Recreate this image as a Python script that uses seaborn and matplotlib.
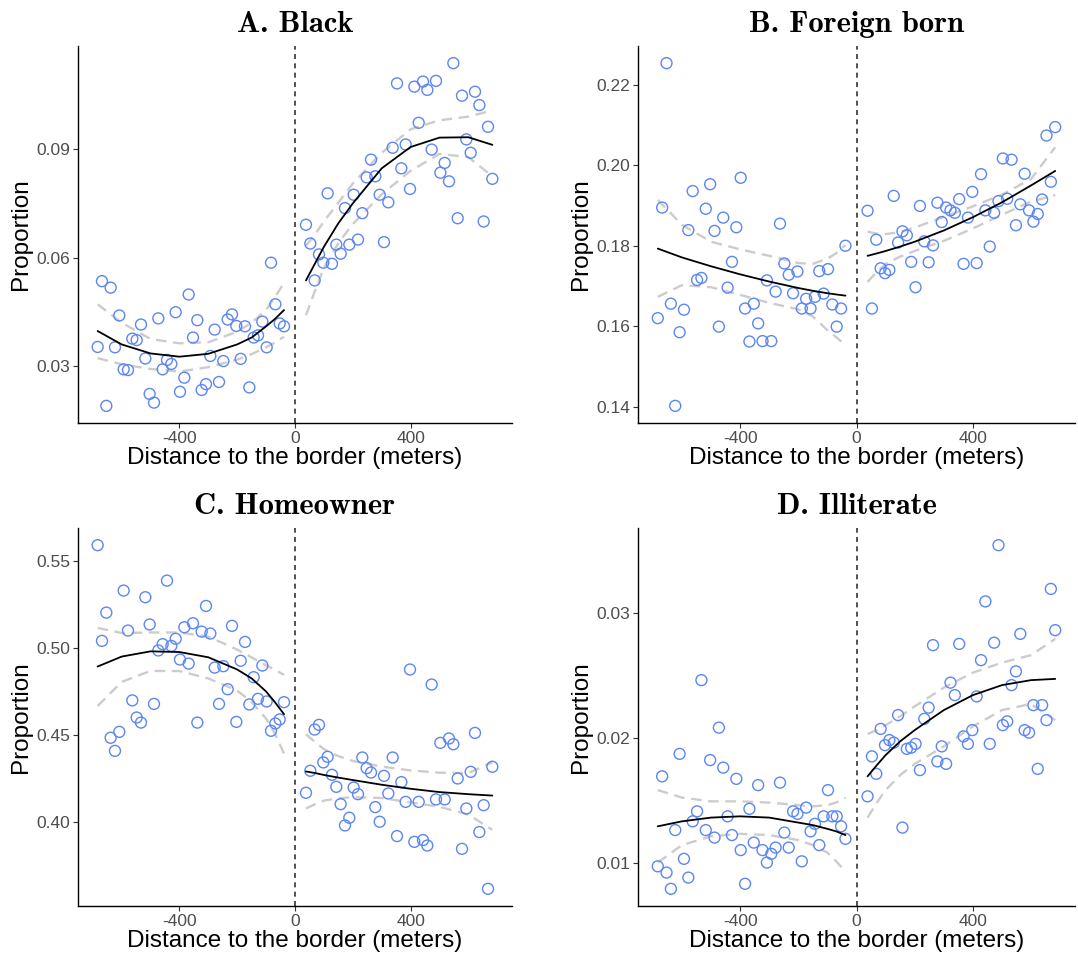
import numpy as np
import pandas as pd
import seaborn as sns
import matplotlib.pyplot as plt

# Bin centres (meters from the border)
X_LEFT = [-683, -668, -653, -638, -623, -608, -593, -578, -563, -548, -533, -518, -503, -488, -473,
          -458, -443, -428, -413, -398, -383, -368, -353, -338, -323, -308, -293, -278, -263, -248,
          -233, -218, -203, -188, -173, -158, -143, -128, -113, -98, -83, -68, -53, -38]
X_RIGHT = [38, 53, 68, 83, 98, 113, 128, 143, 158, 173, 188, 203, 218, 233, 248, 263, 278, 293,
           308, 323, 338, 353, 368, 383, 398, 413, 428, 443, 458, 473, 488, 503, 518, 533, 548,
           563, 578, 593, 608, 623, 638, 653, 668, 683]

# Points where the fitted curves / confidence bands were read
FIT_X_LEFT = [-683, -600, -500, -400, -300, -200, -150, -100, -70, -38]
FIT_X_RIGHT = [38, 70, 100, 150, 200, 300, 400, 500, 600, 683]

# A. Black
BLACK_LEFT = [0.0353, 0.0535, 0.0190, 0.0517, 0.0352, 0.0440, 0.0291, 0.0289, 0.0376, 0.0372, 0.0415,
              0.0321, 0.0223, 0.0199, 0.0432, 0.0291, 0.0317, 0.0306, 0.0449, 0.0229, 0.0268, 0.0498,
              0.0379, 0.0427, 0.0234, 0.0250, 0.0328, 0.0401, 0.0256, 0.0314, 0.0429, 0.0443, 0.0411,
              0.0320, 0.0410, 0.0241, 0.0379, 0.0385, 0.0423, 0.0352, 0.0586, 0.0471, 0.0418, 0.0410]
BLACK_RIGHT = [0.0691, 0.0639, 0.0537, 0.0609, 0.0586, 0.0778, 0.0583, 0.0636, 0.0611, 0.0737, 0.0636,
               0.0774, 0.0650, 0.0723, 0.0822, 0.0871, 0.0825, 0.0774, 0.0643, 0.0753, 0.0904, 0.1082,
               0.0847, 0.0913, 0.0790, 0.1073, 0.0973, 0.1087, 0.1064, 0.0899, 0.1089, 0.0835, 0.0862,
               0.0811, 0.1138, 0.0709, 0.1048, 0.0927, 0.0890, 0.1059, 0.1022, 0.0700, 0.0962, 0.0818]
BLACK_FIT_LEFT = [0.0397, 0.0360, 0.0335, 0.0326, 0.0334, 0.0360, 0.0379, 0.0410, 0.0430, 0.0455]
BLACK_LO_LEFT = [0.0322, 0.0305, 0.0292, 0.0285, 0.0297, 0.0318, 0.0333, 0.0352, 0.0365, 0.0381]
BLACK_HI_LEFT = [0.0471, 0.0420, 0.0375, 0.0363, 0.0366, 0.0395, 0.0420, 0.0455, 0.0490, 0.0530]
BLACK_FIT_RIGHT = [0.0537, 0.0585, 0.0630, 0.0695, 0.0750, 0.0847, 0.0906, 0.0932, 0.0933, 0.0912]
BLACK_LO_RIGHT = [0.0441, 0.0510, 0.0572, 0.0640, 0.0693, 0.0775, 0.0840, 0.0887, 0.0878, 0.0825]
BLACK_HI_RIGHT = [0.0633, 0.0665, 0.0700, 0.0752, 0.0805, 0.0890, 0.0955, 0.0980, 0.0990, 0.1007]

# B. Foreign born
FOREIGN_LEFT = [0.1620, 0.1895, 0.2254, 0.1656, 0.1402, 0.1585, 0.1641, 0.1839, 0.1936, 0.1715, 0.1720,
                0.1892, 0.1953, 0.1837, 0.1599, 0.1870, 0.1696, 0.1760, 0.1846, 0.1969, 0.1644, 0.1562,
                0.1656, 0.1607, 0.1563, 0.1714, 0.1563, 0.1686, 0.1855, 0.1756, 0.1728, 0.1682, 0.1736,
                0.1644, 0.1668, 0.1644, 0.1673, 0.1737, 0.1681, 0.1742, 0.1654, 0.1599, 0.1644, 0.1800]
FOREIGN_RIGHT = [0.1887, 0.1644, 0.1815, 0.1744, 0.1732, 0.1740, 0.1924, 0.1808, 0.1836, 0.1826, 0.1760,
                 0.1697, 0.1899, 0.1811, 0.1759, 0.1801, 0.1907, 0.1859, 0.1895, 0.1888, 0.1882, 0.1916,
                 0.1755, 0.1870, 0.1934, 0.1757, 0.1978, 0.1888, 0.1798, 0.1882, 0.1911, 0.2017, 0.1917,
                 0.2014, 0.1851, 0.1903, 0.1979, 0.1888, 0.1860, 0.1879, 0.1915, 0.2074, 0.1959, 0.2095]
FOREIGN_FIT_LEFT = [0.1793, 0.1771, 0.1749, 0.1729, 0.1711, 0.1695, 0.1688, 0.1682, 0.1679, 0.1676]
FOREIGN_LO_LEFT = [0.1673, 0.1702, 0.1697, 0.1678, 0.1658, 0.1642, 0.1624, 0.1590, 0.1573, 0.1553]
FOREIGN_HI_LEFT = [0.1914, 0.1852, 0.1810, 0.1791, 0.1775, 0.1757, 0.1755, 0.1768, 0.1781, 0.1802]
FOREIGN_FIT_RIGHT = [0.1775, 0.1781, 0.1787, 0.1798, 0.1810, 0.1838, 0.1871, 0.1908, 0.1950, 0.1986]
FOREIGN_LO_RIGHT = [0.1710, 0.1735, 0.1755, 0.1773, 0.1787, 0.1812, 0.1843, 0.1877, 0.1910, 0.1926]
FOREIGN_HI_RIGHT = [0.1835, 0.1830, 0.1829, 0.1834, 0.1845, 0.1872, 0.1898, 0.1927, 0.1966, 0.2045]

# C. Homeowner
HOME_LEFT = [0.5588, 0.5040, 0.5202, 0.4485, 0.4410, 0.4519, 0.5328, 0.5099, 0.4699, 0.4601, 0.4572,
             0.5290, 0.5134, 0.4679, 0.4985, 0.5021, 0.5385, 0.5011, 0.5052, 0.4933, 0.5118, 0.4910,
             0.5141, 0.4572, 0.5093, 0.5240, 0.5082, 0.4887, 0.4679, 0.4895, 0.4763, 0.5126, 0.4576,
             0.4926, 0.5034, 0.4676, 0.4832, 0.4708, 0.4899, 0.4693, 0.4525, 0.4567, 0.4590, 0.4689]
HOME_RIGHT = [0.4170, 0.4296, 0.4532, 0.4559, 0.4344, 0.4376, 0.4273, 0.4204, 0.4105, 0.3983, 0.4027,
              0.4200, 0.4162, 0.4372, 0.4311, 0.4286, 0.4088, 0.4004, 0.4267, 0.4166, 0.4372, 0.3922,
              0.4231, 0.4118, 0.4876, 0.3889, 0.4118, 0.3899, 0.3868, 0.4790, 0.4132, 0.4456, 0.4132,
              0.4481, 0.4448, 0.4252, 0.3849, 0.4080, 0.4290, 0.4513, 0.3945, 0.4099, 0.3620, 0.4319]
HOME_FIT_LEFT = [0.4893, 0.4950, 0.4980, 0.4976, 0.4946, 0.4876, 0.4825, 0.4750, 0.4690, 0.4620]
HOME_LO_LEFT = [0.4667, 0.4805, 0.4868, 0.4867, 0.4825, 0.4755, 0.4690, 0.4595, 0.4510, 0.4395]
HOME_HI_LEFT = [0.5114, 0.5085, 0.5088, 0.5088, 0.5065, 0.4990, 0.4945, 0.4900, 0.4875, 0.4845]
HOME_FIT_RIGHT = [0.4292, 0.4283, 0.4272, 0.4257, 0.4243, 0.4216, 0.4193, 0.4174, 0.4162, 0.4154]
HOME_LO_RIGHT = [0.4080, 0.4105, 0.4125, 0.4138, 0.4145, 0.4140, 0.4115, 0.4090, 0.4045, 0.3958]
HOME_HI_RIGHT = [0.4505, 0.4460, 0.4420, 0.4380, 0.4352, 0.4320, 0.4298, 0.4285, 0.4283, 0.4345]

# D. Illiterate
ILLIT_LEFT = [0.0097, 0.0169, 0.0092, 0.0079, 0.0126, 0.0187, 0.0103, 0.0088, 0.0133, 0.0141, 0.0246,
              0.0126, 0.0182, 0.0120, 0.0208, 0.0176, 0.0137, 0.0122, 0.0167, 0.0110, 0.0083, 0.0143,
              0.0116, 0.0162, 0.0110, 0.0100, 0.0107, 0.0112, 0.0164, 0.0124, 0.0112, 0.0141, 0.0139,
              0.0101, 0.0144, 0.0125, 0.0131, 0.0114, 0.0137, 0.0158, 0.0137, 0.0137, 0.0129, 0.0119]
ILLIT_RIGHT = [0.0153, 0.0185, 0.0171, 0.0207, 0.0194, 0.0198, 0.0196, 0.0218, 0.0128, 0.0191, 0.0192,
               0.0195, 0.0174, 0.0215, 0.0224, 0.0274, 0.0181, 0.0193, 0.0179, 0.0244, 0.0234, 0.0275,
               0.0201, 0.0195, 0.0206, 0.0233, 0.0262, 0.0309, 0.0195, 0.0276, 0.0354, 0.0210, 0.0213,
               0.0242, 0.0253, 0.0283, 0.0206, 0.0204, 0.0226, 0.0175, 0.0226, 0.0214, 0.0319, 0.0286]
ILLIT_FIT_LEFT = [0.0129, 0.0133, 0.0136, 0.0137, 0.0136, 0.0132, 0.0130, 0.0127, 0.0125, 0.0122]
ILLIT_LO_LEFT = [0.0100, 0.0114, 0.0121, 0.0123, 0.0122, 0.0118, 0.0114, 0.0108, 0.0101, 0.0093]
ILLIT_HI_LEFT = [0.0158, 0.0152, 0.0149, 0.0149, 0.0148, 0.0146, 0.0145, 0.0146, 0.0148, 0.0152]
ILLIT_FIT_RIGHT = [0.0169, 0.0178, 0.0186, 0.0197, 0.0206, 0.0222, 0.0234, 0.0242, 0.0246, 0.0247]
ILLIT_LO_RIGHT = [0.0136, 0.0148, 0.0158, 0.0170, 0.0179, 0.0193, 0.0209, 0.0222, 0.0227, 0.0214]
ILLIT_HI_RIGHT = [0.0203, 0.0206, 0.0210, 0.0217, 0.0225, 0.0240, 0.0252, 0.0260, 0.0266, 0.0279]

TITLES = ["A. Black", "B. Foreign born", "C. Homeowner", "D. Illiterate"]
YTICKS = [[0.03, 0.06, 0.09],
          [0.14, 0.16, 0.18, 0.20, 0.22],
          [0.40, 0.45, 0.50, 0.55],
          [0.01, 0.02, 0.03]]

PANELS = [
    (BLACK_LEFT, BLACK_RIGHT, BLACK_FIT_LEFT, BLACK_LO_LEFT, BLACK_HI_LEFT,
     BLACK_FIT_RIGHT, BLACK_LO_RIGHT, BLACK_HI_RIGHT),
    (FOREIGN_LEFT, FOREIGN_RIGHT, FOREIGN_FIT_LEFT, FOREIGN_LO_LEFT, FOREIGN_HI_LEFT,
     FOREIGN_FIT_RIGHT, FOREIGN_LO_RIGHT, FOREIGN_HI_RIGHT),
    (HOME_LEFT, HOME_RIGHT, HOME_FIT_LEFT, HOME_LO_LEFT, HOME_HI_LEFT,
     HOME_FIT_RIGHT, HOME_LO_RIGHT, HOME_HI_RIGHT),
    (ILLIT_LEFT, ILLIT_RIGHT, ILLIT_FIT_LEFT, ILLIT_LO_LEFT, ILLIT_HI_LEFT,
     ILLIT_FIT_RIGHT, ILLIT_LO_RIGHT, ILLIT_HI_RIGHT),
]

BLUE = "#5b86f4"
CI_GREY = "#cccccc"

sns.set_style("ticks")
plt.rcParams["font.family"] = ["Liberation Sans", "DejaVu Sans"]
plt.rcParams["axes.unicode_minus"] = False

W, H = 1078, 959
fig = plt.figure(figsize=(W / 100, H / 100), dpi=100)

# axes boxes in pixels: (left, top, right, bottom)
boxes = [(78, 46, 512, 423), (638, 46, 1075, 423),
         (78, 528, 512, 906), (638, 528, 1075, 906)]

for i, (box, data) in enumerate(zip(boxes, PANELS)):
    l, t, r, b = box
    ax = fig.add_axes([l / W, 1 - b / H, (r - l) / W, (b - t) / H])
    pts_l, pts_r, fit_l, lo_l, hi_l, fit_r, lo_r, hi_r = data

    pts = pd.DataFrame({"x": X_LEFT + X_RIGHT, "y": pts_l + pts_r})
    sns.scatterplot(data=pts, x="x", y="y", ax=ax, s=62, marker="o",
                    facecolors="none", edgecolors=BLUE, linewidths=1.0, zorder=3)

    for fx, band in ((FIT_X_LEFT, (lo_l, hi_l)), (FIT_X_RIGHT, (lo_r, hi_r))):
        for yb in band:
            sns.lineplot(x=fx, y=yb, ax=ax, color=CI_GREY, linewidth=1.7,
                         linestyle=(0, (4.5, 2.8)), estimator=None, sort=False, zorder=2)
    sns.lineplot(x=FIT_X_LEFT, y=fit_l, ax=ax, color="black", linewidth=1.3,
                 estimator=None, sort=False, zorder=4)
    sns.lineplot(x=FIT_X_RIGHT, y=fit_r, ax=ax, color="black", linewidth=1.3,
                 estimator=None, sort=False, zorder=4)

    ax.axvline(0, color="#333333", linewidth=1.2, linestyle=(0, (3, 2.6)), zorder=1)

    allv = pts_l + pts_r
    span = max(allv) - min(allv)
    ax.set_ylim(min(allv) - 0.05 * span, max(allv) + 0.05 * span)
    ax.set_xlim(-751, 751)
    ax.set_xticks([-400, 0, 400])
    ax.set_xticklabels(["-400", "0", "400"])
    ax.set_yticks(YTICKS[i])
    ax.set_yticklabels(["{:.2f}".format(v) for v in YTICKS[i]])

    ax.tick_params(axis="both", length=3.5, width=0.8, color="#333333",
                   labelsize=12.5, labelcolor="#4d4d4d", pad=2)
    for side in ("left", "bottom"):
        ax.spines[side].set_linewidth(1.0)
        ax.spines[side].set_color("black")
    sns.despine(ax=ax)

    ax.set_xlabel("Distance to the border (meters)", fontsize=17.5, color="black", labelpad=1)
    ax.set_ylabel("Proportion", fontsize=17.5, color="black", labelpad=3)
    ax.set_title(TITLES[i], fontsize=22, pad=10, family="cmb10", color="black")

fig.savefig("out.png", dpi=100)
